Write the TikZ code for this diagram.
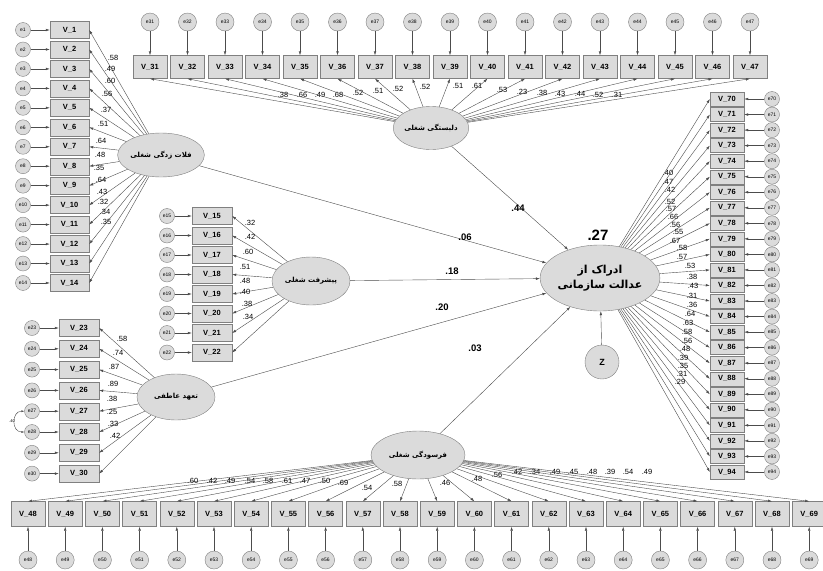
\documentclass[tikz,border=0pt]{standalone}
\usepackage{fontspec}
\setmainfont{Liberation Sans}
\newfontfamily\fa[Script=Arabic]{DejaVu Sans}
\TeXXeTstate=1
\usetikzlibrary{shapes.geometric,arrows.meta}
\begin{document}
\begin{tikzpicture}[x=1pt,y=-1pt,
 obs/.style={rectangle, draw=black!50, fill=black!14, font=\bfseries\fontsize{7.5}{8}\selectfont, inner sep=0pt},
 err/.style={circle, draw=black!50, fill=black!14, font=\fontsize{5}{6}\selectfont, inner sep=0pt, minimum size=15pt},
 lat/.style={ellipse, draw=black!50, fill=black!14, inner sep=0pt, font=\fa\bfseries\fontsize{7}{8}\selectfont},
 arr/.style={draw=black!70, line width=0.4pt, -{Latex[length=4pt,width=2.6pt]}},
 lab/.style={font=\fontsize{7.5}{8}\selectfont, inner sep=0pt},
 plab/.style={font=\bfseries\fontsize{9.5}{10}\selectfont, inner sep=0pt}]
\fill[white] (0,0) rectangle (823,571);
\useasboundingbox (0,0) rectangle (823,571);
% latent variables
\node[lat, minimum width=78pt, minimum height=44pt] (L1) at (161,155) {\beginR فلات زدگی شغلی\endR};
\node[lat, minimum width=66pt, minimum height=43pt] (L2) at (431,128) {\beginR دلبستگی شغلی\endR};
\node[lat, minimum width=78pt, minimum height=48pt] (L3) at (311,281) {\beginR پیشرفت شغلی\endR};
\node[lat, minimum width=78pt, minimum height=46pt] (L4) at (176,397) {\beginR تعهد عاطفی\endR};
\node[lat, minimum width=94pt, minimum height=48pt] (L5) at (418,455) {\beginR فرسودگی شغلی\endR};
\node[lat, minimum width=116pt, minimum height=66pt, align=center, font=\fa\bfseries\fontsize{11}{15}\selectfont] (L6) at (600,278) {\beginR ادراک از\endR\\\beginR عدالت سازمانی\endR};
\node[err, minimum size=34pt, font=\bfseries\fontsize{9}{10}\selectfont] (Z) at (602,362) {Z};
% top row
\foreach \i/\val/\lx/\ly [count=\k from 0] in {31/.38/283/95, 32/.66/302/95, 33/.49/320/95, 34/.68/338/95, 35/.52/358/93, 36/.51/378/91, 37/.52/398/89, 38/.52/425/87, 39/.51/458/86, 40/.61/477/86, 41/.53/502/90, 42/.23/522/92, 43/.38/542/93, 44/.43/560/94, 45/.44/580/94, 46/.52/598/95, 47/.31/617/95}{
  \node[obs, minimum width=34pt, minimum height=23pt] (V\i) at ({150+37.5*\k},67) {V\_\i};
  \node[err, minimum size=18pt] (e\i) at ({150+37.5*\k},22) {e\i};
  \draw[arr] (e\i) -- (V\i);
  \draw[arr] (L2) -- (V\i.south);
  \node[lab] (w\i) at (\lx,\ly) {\val};
}
% left column
\foreach \i/\val/\lx/\ly in {1/.58/113/58, 2/.49/110/69, 3/.60/110/81, 4/.56/107/94, 5/.37/106/110, 6/.51/103/124, 7/.64/101/141, 8/.48/100/155, 9/.35/99/168, 10/.64/101/180, 11/.43/102/192, 12/.32/103/202, 13/.34/105/212, 14/.35/106/222}{
  \node[obs, minimum width=39pt, minimum height=17pt] (V\i) at (69.5,{30+19.46*(\i-1)}) {V\_\i};
  \node[err] (e\i) at (23,{30+19.46*(\i-1)}) {e\i};
  \draw[arr] (e\i) -- (V\i);
  \draw[arr] (L1) -- (V\i.east);
  \node[lab] (w\i) at (\lx,\ly) {\val};
}
% middle group
\foreach \i/\val/\lx/\ly [count=\k from 0] in {15/.32/250/223, 16/.42/250/237, 17/.60/248/252, 18/.51/245/267, 19/.48/245/281, 20/.40/245/292, 21/.38/247/304, 22/.34/248/317}{
  \node[obs, minimum width=40pt, minimum height=17pt] (V\i) at (212,{216+19.5*\k}) {V\_\i};
  \node[err] (e\i) at (167,{216+19.5*\k}) {e\i};
  \draw[arr] (e\i) -- (V\i);
  \draw[arr] (L3) -- (V\i.east);
  \node[lab] (w\i) at (\lx,\ly) {\val};
}
% lower left group
\foreach \i/\val/\lx/\ly [count=\k from 0] in {23/.58/122/339, 24/.74/118/353, 25/.87/114/367, 26/.89/113/384, 27/.38/112/399, 28/.25/112/412, 29/.33/113/424, 30/.42/115/436}{
  \node[obs, minimum width=40pt, minimum height=17pt] (V\i) at (79,{328+20.8*\k}) {V\_\i};
  \node[err] (e\i) at (32,{328+20.8*\k}) {e\i};
  \draw[arr] (e\i) -- (V\i);
  \draw[arr] (L4) -- (V\i.east);
  \node[lab] (w\i) at (\lx,\ly) {\val};
}
\draw[draw=black!70, line width=0.4pt, {Latex[length=3pt,width=2pt]}-{Latex[length=3pt,width=2pt]}] (e27.west) to[out=180,in=180,looseness=1.6] (e28.west);
\node[font=\fontsize{4}{5}\selectfont, inner sep=0pt] (cov) at (12,421) {.40};
% right column
\foreach \i/\val/\lx/\ly [count=\k from 0] in {70/.40/668/173, 71/.47/668/182, 72/.42/670/190, 73/.52/670/202, 74/.57/671/209, 75/.66/673/217, 76/.56/675/225, 77/.55/678/232, 78/.67/675/241, 79/.58/682/248, 80/.57/682/257, 81/.53/690/266, 82/.38/692/277, 83/.43/693/286, 84/.31/692/296, 85/.36/692/305, 86/.64/690/314, 87/.63/688/323, 88/.58/687/332, 89/.56/687/341, 90/.48/685/349, 91/.39/683/358, 92/.35/683/366, 93/.31/682/374, 94/.29/680/382}{
  \node[obs, minimum width=34pt, minimum height=14pt] (V\i) at (727,{99+15.54*\k}) {V\_\i};
  \node[err] (e\i) at (772,{99+15.54*\k}) {e\i};
  \draw[arr] (e\i) -- (V\i);
  \draw[arr] (L6) -- (V\i.west);
  \node[lab] (w\i) at (\lx,\ly) {\val};
}
% bottom row
\foreach \i/\val/\lx/\ly [count=\k from 0] in {48/.60/193/481, 49/.42/212/481, 50/.49/230/481, 51/.54/250/481, 52/.58/268/481, 53/.61/287/481, 54/.47/305/481, 55/.50/325/481, 56/.69/343/483, 57/.54/367/488, 58/.58/397/484, 59/.46/445/483, 60/.48/477/479, 61/.56/497/475, 62/.42/517/472, 63/.34/535/472, 64/.49/555/472, 65/.45/573/472, 66/.48/592/472, 67/.39/610/472, 68/.54/628/472, 69/.49/647/472}{
  \node[obs, minimum width=34pt, minimum height=25pt] (V\i) at ({28+37.2*\k},514) {V\_\i};
  \node[err, minimum size=18pt] (e\i) at ({28+37.2*\k},560) {e\i};
  \draw[arr] (e\i) -- (V\i);
  \draw[arr] (L5) -- (V\i.north);
  \node[lab] (w\i) at (\lx,\ly) {\val};
}
% structural paths
\draw[arr] (L1) -- (L6);
\draw[arr] (L2) -- (L6);
\draw[arr] (L3) -- (L6);
\draw[arr] (L4) -- (L6);
\draw[arr] (L5) -- (L6);
\draw[arr] (Z) -- (L6);
\node[plab] (p2) at (518,208) {.44};
\node[plab] (p1) at (465,237) {.06};
\node[plab] (p3) at (452,271) {.18};
\node[plab] (p4) at (442,307) {.20};
\node[plab] (p5) at (475,348) {.03};
\node[font=\bfseries\fontsize{15}{16}\selectfont, inner sep=0pt] (r2) at (598,235) {.27};
\end{tikzpicture}
\end{document}
